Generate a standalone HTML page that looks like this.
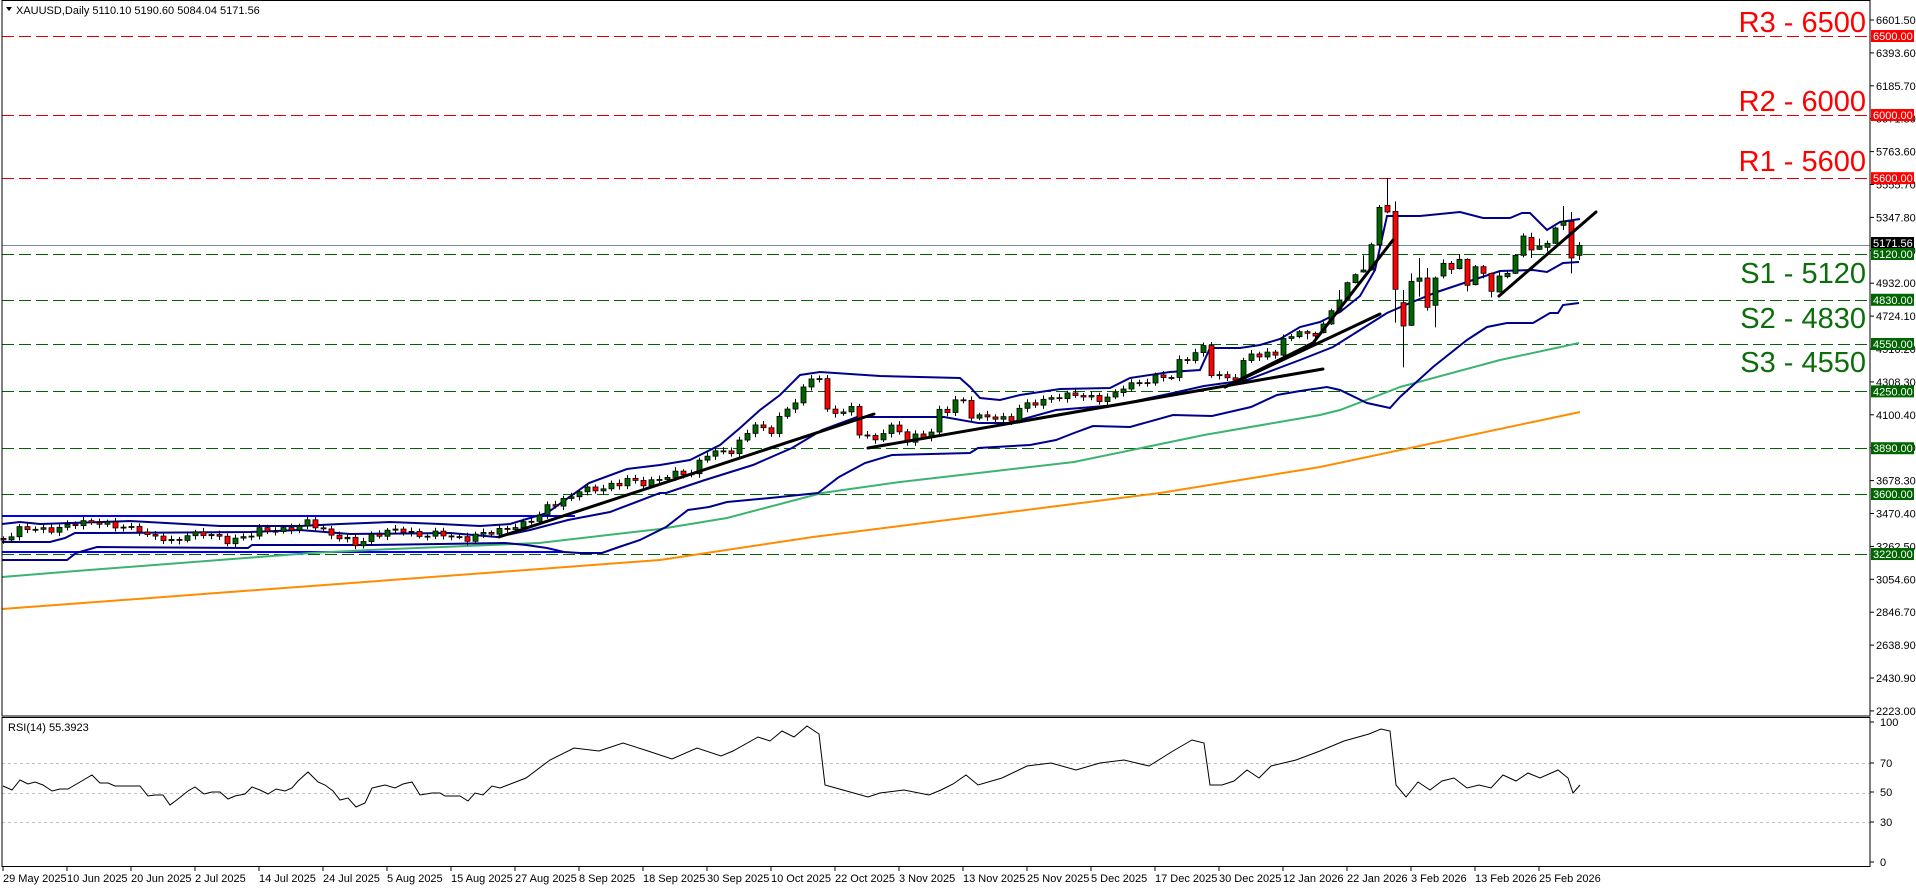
<!DOCTYPE html>
<html><head><meta charset="utf-8"><style>
html,body{margin:0;padding:0;background:#fff;width:1916px;height:888px;overflow:hidden}
svg{display:block;font-family:"Liberation Sans",sans-serif}
</style></head><body>
<svg id="c" width="1916" height="888" xmlns="http://www.w3.org/2000/svg">
<rect x="0" y="0" width="1916" height="888" fill="#fff"/>
<g id="levels"></g>
<g id="bands" fill="none"></g>
<g id="candles"></g>
<g id="trend" stroke="#000" stroke-width="3" fill="none" stroke-linecap="round"></g>
<g id="rsi"></g>
<g id="axis" font-size="11" fill="#000"></g>
<text x="16" y="14" font-size="11">XAUUSD,Daily  5110.10 5190.60 5084.04 5171.56</text>
<path d="M6,7 L12,7 L9,11 Z" fill="#000"/>
<text x="8" y="731" font-size="11">RSI(14) 55.3923</text>
<g font-size="29" text-anchor="end">
<text x="1866" y="32" fill="#ff0000">R3 - 6500</text>
<text x="1866" y="111" fill="#ff0000">R2 - 6000</text>
<text x="1866" y="171" fill="#ff0000">R1 - 5600</text>
<text x="1866" y="283" fill="#0b6e0b">S1 - 5120</text>
<text x="1866" y="328" fill="#0b6e0b">S2 - 4830</text>
<text x="1866" y="372" fill="#0b6e0b">S3 - 4550</text>
</g>
<rect x="2" y="0.5" width="1868" height="715.5" fill="none" stroke="#000"/>
<rect x="2" y="717.5" width="1868" height="149" fill="none" stroke="#000"/>
</svg>
<script>
const NS="http://www.w3.org/2000/svg";
function el(p,t,a,txt){const e=document.createElementNS(NS,t);for(const k in a)e.setAttribute(k,a[k]);if(txt!=null)e.textContent=txt;document.getElementById(p).appendChild(e);return e;}
const py=p=>20+(6601.5-p)/6.332;
// levels
const lv=[[6500,'#e00000'],[6000,'#e00000'],[5600,'#e00000'],[5120,'#006400'],[4830,'#006400'],[4550,'#006400'],[4250,'#006400'],[3890,'#006400'],[3600,'#006400'],[3220,'#006400']];
lv.forEach(([p,c])=>{const y=Math.round(py(p))+0.5;el('levels','line',{x1:2,x2:1870,y1:y,y2:y,stroke:c,'stroke-dasharray':'12 5'});});
el('levels','line',{x1:2,x2:1870,y1:245.5,y2:245.5,stroke:'#778899'});
// box
el('levels','line',{x1:2,x2:575,y1:516,y2:516,stroke:'#0000ff','stroke-width':2});
el('levels','line',{x1:2,x2:563,y1:552,y2:552,stroke:'#0000ff','stroke-width':2});
function pl(g,pts,a){a.points=pts.map(p=>p.join(',')).join(' ');return el(g,'polyline',a);}
// MAs
pl('bands',[[2,609],[660,560],[813,537],[1160,493],[1320,467],[1580,412]],{stroke:'#ff8c00','stroke-width':2});
pl('bands',[[2,577],[76,571],[311,553],[370,550],[539,543],[660,529],[727,518],[822,493],[900,482],[987,472],[1074,462],[1204,435],[1320,415],[1340,410],[1400,387],[1500,360],[1579,343]],{stroke:'#3cb371','stroke-width':2});
// BB
const bb='#00008b';
pl('bands',[[2,524],[20,522],[40,524],[70,523],[130,521],[220,526],[300,526],[340,524],[390,522],[440,524],[480,526],[510,524],[530,518],[547,513],[589,483],[627,469],[660,465],[690,460],[720,445],[740,428],[760,410],[780,395],[800,375],[820,372],[880,376],[960,378],[970,387],[980,398],[1000,400],[1020,395],[1060,389],[1110,388],[1130,378],[1170,372],[1200,370],[1210,348],[1240,348],[1260,345],[1280,339],[1300,327],[1320,322],[1340,312],[1360,296],[1375,270],[1387,216],[1420,216],[1460,212],[1483,218],[1510,218],[1522,213],[1530,213],[1547,230],[1560,222],[1580,219]],{stroke:bb,'stroke-width':2});
pl('bands',[[2,542],[50,542],[65,538],[75,533],[100,533],[250,532],[300,530],[350,534],[450,533],[497,537],[530,530],[568,520],[610,512],[660,493],[666,493],[705,480],[753,465],[792,448],[822,430],[857,417],[944,417],[978,423],[1009,423],[1056,410],[1117,405],[1173,393],[1204,386],[1247,380],[1300,360],[1333,347],[1360,330],[1387,313],[1410,303],[1437,292],[1467,282],[1500,271],[1533,270],[1547,272],[1563,263],[1579,262]],{stroke:bb,'stroke-width':2});
pl('bands',[[2,560],[67,560],[76,553],[97,547],[248,548],[252,545],[370,545],[505,543],[526,545],[547,548],[564,552],[580,553],[602,553],[619,547],[640,540],[666,527],[688,510],[709,507],[727,502],[770,498],[818,493],[839,477],[865,463],[892,455],[970,453],[978,448],[1030,445],[1056,440],[1074,433],[1093,426],[1130,427],[1173,415],[1212,416],[1251,407],[1277,395],[1300,391],[1327,387],[1340,390],[1367,403],[1390,408],[1400,397],[1433,367],[1467,340],[1487,327],[1507,323],[1533,323],[1550,313],[1558,313],[1563,305],[1579,303]],{stroke:bb,'stroke-width':2});
// candles
const kp=[[0,540],[19,530],[60,528],[95,520],[116,528],[139,528],[147,535],[173,543],[187,533],[206,535],[227,540],[253,535],[261,530],[299,528],[307,522],[316,525],[332,535],[356,545],[370,535],[404,530],[420,535],[442,535],[467,538],[490,533],[507,527],[524,525],[532,520],[540,515],[547,505],[556,502],[572,498],[580,490],[596,488],[619,485],[627,480],[644,482],[660,480],[680,472],[692,472],[699,462],[707,455],[731,450],[740,440],[755,425],[764,432],[770,433],[779,415],[787,410],[796,400],[803,390],[811,380],[820,375],[827,410],[835,412],[844,412],[852,410],[859,433],[868,435],[875,440],[884,430],[892,428],[899,433],[907,440],[915,435],[924,435],[931,432],[939,413],[947,411],[955,400],[963,400],[972,417],[980,418],[996,418],[1011,418],[1019,408],[1035,404],[1051,397],[1060,395],[1099,398],[1115,395],[1123,388],[1139,382],[1155,377],[1171,378],[1179,362],[1187,357],[1195,352],[1203,347],[1212,378],[1235,377],[1243,362],[1251,353],[1259,358],[1267,355],[1275,352],[1283,338],[1291,337]];
function interp(x){for(let i=1;i<kp.length;i++){if(x<=kp[i][0]){const a=kp[i-1],b=kp[i];return a[1]+(b[1]-a[1])*(x-a[0])/(b[0]-a[0]);}}return kp[kp.length-1][1];}
function candle(x,o,c,h,l){const g=c<=o;const t=Math.min(o,c),b=Math.max(o,c);
el('candles','line',{x1:x+0.5,x2:x+0.5,y1:h,y2:l,stroke:'#000'});
el('candles','rect',{x:x-2,y:t,width:5,height:Math.max(1,b-t),fill:g?'#006400':'#ff0000',stroke:'#000','stroke-width':0.8});}
let prev=interp(3);
for(let i=0;i<162;i++){const x=3+8*i;let c=interp(x)+2.5*Math.sin(i*2.3)+1.5*Math.cos(i*1.1);
const o=prev;const h=Math.min(o,c)-2-2*Math.abs(Math.sin(i*1.7));const l=Math.max(o,c)+2+2*Math.abs(Math.cos(i*1.3));candle(x,o,c,h,l);prev=c;}
const ex=[[1,545,560,540,565],[0,545,550,540,568],[0,550,558,545,578],[1,522,548,515,550],[1,482,522,476,525],[1,450,482,420,485],[1,398,448,395,452],[1,374,398,370,400],[1,360,366,316,368],[1,284,360,278,362],[1,172,284,165,290],[0,166,186,84,190],[0,184,418,154,518],[0,458,528,420,652],[1,394,526,370,528],[1,384,394,324,440],[0,384,472,354,482],[1,384,466,380,532],[1,340,378,328,385],[0,340,358,333,372],[1,328,356,312,358],[0,328,406,325,424],[1,350,404,345,406],[0,350,370,345,385],[0,370,424,368,442],[1,378,426,365,428],[1,370,380,360,385],[1,316,370,312,372],[1,258,316,250,322],[0,262,300,248,324],[1,288,298,266,300],[1,280,292,272,305],[1,234,280,230,282],[1,214,226,168,240],[0,214,324,186,370],[1,286,316,276,330]];
ex.forEach((e,k)=>{const x=3+8*(162+k);const f=z=>150+z/3;const t=f(e[1]),b=f(e[2]);
if(e[0])candle(x,b,t,f(e[3]),f(e[4]));else candle(x,t,b,f(e[3]),f(e[4]));});
// trendlines
pl('trend',[[499,537],[874,414]],{});
pl('trend',[[868,448],[1323,369]],{});
pl('trend',[[1225,387],[1380,314]],{});
pl('trend',[[1225,387],[1313,343],[1393,240]],{});
pl('trend',[[1499,296],[1596,212]],{});
// RSI
[70,50,30].forEach(v=>{const y=Math.round(866-v*1.47)+0.5;el('rsi','line',{x1:2,x2:1870,y1:y,y2:y,stroke:'#c0c0c0','stroke-dasharray':'3 3'});});
const r1=[[3,786],[12,790],[20,780],[28,784],[35,782],[43,785],[52,791],[60,789],[68,789],[80,782],[92,775],[100,783],[108,783],[115,786],[140,786],[148,796],[155,795],[163,795],[170,805],[178,799],[188,791],[195,787],[204,794],[212,792],[220,792],[228,799],[235,796],[245,794],[252,787],[260,790],[268,794],[276,789],[285,791],[292,788],[298,781],[308,772],[318,782],[325,785],[333,791],[340,800],[348,798],[356,807],[365,803],[372,788],[385,785],[395,788],[403,784],[412,782],[420,795],[432,793],[440,793],[445,796],[460,796],[468,801],[475,793],[483,795],[492,786],[500,788]];
const r2=[[430,60],[450,72],[470,80],[490,78],[510,84],[530,78],[550,73],[570,80],[590,75],[600,78],[620,88],[630,85],[640,92],[650,88],[660,95],[670,90],[675,55],[690,52],[710,47],[720,50],[740,52],[760,48],[770,52],[780,56],[790,62],[800,55],[820,60],[840,68],[860,70],[880,65],[900,70],[920,72],[940,68],[960,78],[975,86],[985,84],[990,55],[1000,55],[1010,58],[1020,65],[1030,60],[1040,68],[1060,72],[1080,78],[1100,85],[1120,90],[1130,93],[1137,92],[1142,55],[1150,47],[1160,57],[1170,52],[1180,58],[1190,60],[1200,53],[1210,55],[1220,53],[1230,62],[1240,58],[1250,63],[1260,60],[1275,65],[1283,60],[1287,50],[1293,55]].map(([x,v])=>[Math.round(x*1.2222),Math.round(866-v*1.47)]).filter(p=>p[0]>500);
pl('rsi',r1.concat(r2),{fill:'none',stroke:'#000','stroke-width':1});
// right axis
const al=['6601.50','6393.60','6185.70','5971.80','5763.60','5555.70','5347.80','5139.90','4932.00','4724.10','4516.20','4308.30','4100.40','3892.50','3678.30','3470.40','3262.50','3054.60','2846.70','2638.90','2430.90','2223.00'];
al.forEach((t,k)=>{const y=20+k*32.9;el('axis','line',{x1:1870,x2:1874,y1:y,y2:y,stroke:'#000'});el('axis','text',{x:1876,y:y+4},t);});
const bx=[[6500,'#ff0000'],[6000,'#ff0000'],[5600,'#ff0000'],[5171.56,'#000'],[5120,'#006400'],[4830,'#006400'],[4550,'#006400'],[4250,'#006400'],[3890,'#006400'],[3600,'#006400'],[3220,'#006400']];
bx.forEach(([p,c])=>{let y=py(p);if(p===5171.56)y=243;el('axis','rect',{x:1871,y:y-6,width:43,height:12,fill:c});el('axis','text',{x:1873,y:y+4,fill:'#fff'},p.toFixed(2));});
[[100,722],[70,763],[50,792],[30,822],[0,862]].forEach(([v,y])=>{el('axis','line',{x1:1870,x2:1874,y1:y,y2:y,stroke:'#000'});el('axis','text',{x:1880,y:y+4},String(v));});
// time axis
const dl=['29 May 2025','10 Jun 2025','20 Jun 2025','2 Jul 2025','14 Jul 2025','24 Jul 2025','5 Aug 2025','15 Aug 2025','27 Aug 2025','8 Sep 2025','18 Sep 2025','30 Sep 2025','10 Oct 2025','22 Oct 2025','3 Nov 2025','13 Nov 2025','25 Nov 2025','5 Dec 2025','17 Dec 2025','30 Dec 2025','12 Jan 2026','22 Jan 2026','3 Feb 2026','13 Feb 2026','25 Feb 2026'];
dl.forEach((t,k)=>{const x=3+64*k;el('axis','line',{x1:x,x2:x,y1:867,y2:871,stroke:'#000'});el('axis','text',{x:x,y:882},t);});
</script>
</body></html>
